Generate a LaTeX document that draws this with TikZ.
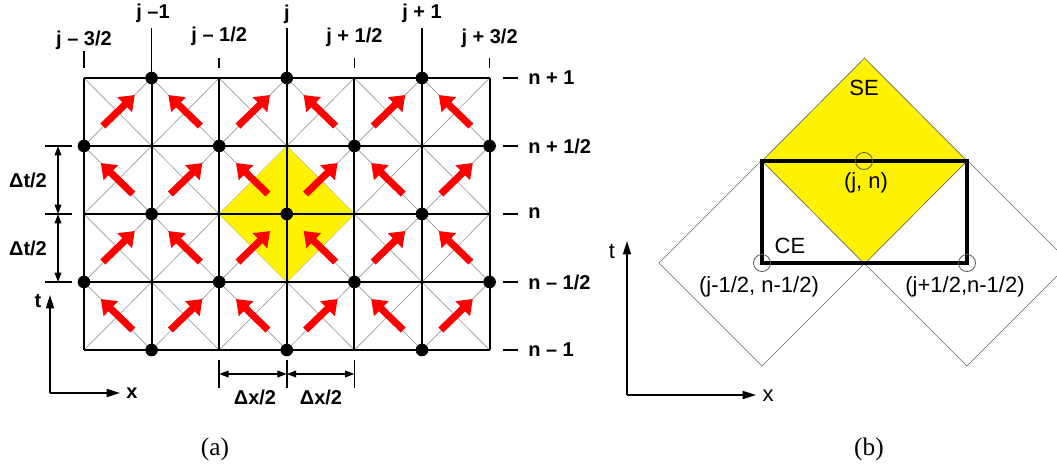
\documentclass[tikz,border=0pt]{standalone}
\usepackage{fontspec}
\setmainfont{Liberation Sans}
\newfontfamily\capfont{Liberation Serif}
\usetikzlibrary{arrows.meta}
\tikzset{
  lbl/.style={font=\fontsize{15}{18}\bfseries\selectfont, inner sep=0pt},
  rlbl/.style={font=\fontsize{15}{18}\bfseries\selectfont, inner sep=0pt, anchor=west},
  blbl/.style={font=\fontsize{16.5}{19}\selectfont, inner sep=0pt},
  caplbl/.style={font=\fontsize{19}{22}\capfont, inner sep=0pt},
  gridline/.style={line width=1.6pt, black},
  diag/.style={line width=0.5pt, black!40},
  redarrow/.style={line width=5.3pt, red, -{Triangle[width=15pt,length=10.5pt]}},
  tickline/.style={line width=1.1pt, black},
  dimarrow/.style={line width=1.1pt, black, {Triangle[width=5pt,length=7pt]}-{Triangle[width=5pt,length=7pt]}},
  axisarrow/.style={line width=1.3pt, black, -{Triangle[width=6pt,length=10pt]}},
  dot/.style={black},
  thinpoly/.style={line width=0.5pt, black!60},
  ring/.style={line width=0.6pt, black!65},
}
\begin{document}
\begin{tikzpicture}[x=0.75pt,y=-0.75pt]
\useasboundingbox (0,0) rectangle (1057,468);

% ---------------- (a) ----------------
\foreach \c in {0,...,5}{
  \foreach \r in {0,...,3}{
    \pgfmathsetmacro{\xa}{84+67.6*\c}
    \pgfmathsetmacro{\xb}{84+67.6*(\c+1)}
    \pgfmathsetmacro{\ya}{78+68*\r}
    \pgfmathsetmacro{\yb}{78+68*(\r+1)}
    \draw[diag] (\xa,\ya) -- (\xb,\yb);
    \draw[diag] (\xa,\yb) -- (\xb,\ya);
  }
}
\fill[yellow] (219.2,214) -- (286.8,146) -- (354.4,214) -- (286.8,282) -- cycle;
\foreach \c in {0,...,5}{
  \foreach \r in {0,...,3}{
    \pgfmathsetmacro{\cx}{84+67.6*(\c+0.5)}
    \pgfmathsetmacro{\cy}{78+68*(\r+0.5)}
    \pgfmathtruncatemacro{\parity}{mod(\c+\r,2)}
    \ifnum\parity=0
      \draw[redarrow] (\cx-15,\cy+14) -- (\cx+17,\cy-17);
    \else
      \draw[redarrow] (\cx+15,\cy+14) -- (\cx-17,\cy-17);
    \fi
  }
}
\foreach \c in {0,...,6}{
  \pgfmathsetmacro{\xa}{84+67.6*\c}
  \draw[gridline] (\xa,78) -- (\xa,350);
}
\foreach \r in {0,...,4}{
  \pgfmathsetmacro{\ya}{78+68*\r}
  \draw[gridline] (84,\ya) -- (489.6,\ya);
}
\foreach \r in {0,2,4}{
  \foreach \c in {1,3,5}{
    \fill[dot] ({84+67.6*\c},{78+68*\r}) circle[radius=6.3];
  }
}
\foreach \r in {1,3}{
  \foreach \c in {0,2,4,6}{
    \fill[dot] ({84+67.6*\c},{78+68*\r}) circle[radius=6.3];
  }
}
\draw[tickline] (84,51) -- (84,68);
\draw[tickline] (219.2,58) -- (219.2,68);
\draw[tickline] (354.4,58) -- (354.4,68);
\draw[tickline] (489.6,58) -- (489.6,68);
\draw[tickline] (151.6,28) -- (151.6,78);
\draw[tickline] (286.8,28) -- (286.8,78);
\draw[tickline] (422,28) -- (422,78);
\node[lbl] (jm32) at (84,40) {j – 3/2};
\node[lbl] (jm1) at (153,13) {j –1};
\node[lbl] (jm12) at (219.2,36) {j – 1/2};
\node[lbl] (j0) at (286.8,14) {j};
\node[lbl] (jp12) at (354.4,37) {j + 1/2};
\node[lbl] (jp1) at (422,13) {j + 1};
\node[lbl] (jp32) at (489.6,38) {j + 3/2};
\foreach \r in {0,...,4}{
  \draw[tickline] (503,{78+68*\r}) -- (518,{78+68*\r});
}
\node[rlbl] (np1) at (528,78) {n + 1};
\node[rlbl] (np12) at (528,146) {n + 1/2};
\node[rlbl] (n0) at (528,213) {n};
\node[rlbl] (nm12) at (528,282) {n – 1/2};
\node[rlbl] (nm1) at (528,350) {n – 1};
\foreach \yy in {146,214,282}{
  \draw[tickline] (45,\yy) -- (72,\yy);
}
\coordinate (dt1) at (58,146);
\coordinate (dt2) at (58,214);
\coordinate (dt3) at (58,282);
\draw[dimarrow] (dt1) -- (dt2);
\draw[dimarrow] (dt2) -- (dt3);
\node[lbl] (dtl1) at (28,180) {Δt/2};
\node[lbl] (dtl2) at (28,248) {Δt/2};
\foreach \xx in {219.2,286.8,354.4}{
  \draw[tickline] (\xx,360) -- (\xx,388);
}
\coordinate (dx1) at (219.2,374);
\coordinate (dx2) at (286.8,374);
\coordinate (dx3) at (354.4,374);
\draw[dimarrow] (dx1) -- (dx2);
\draw[dimarrow] (dx2) -- (dx3);
\node[lbl] (dxl1) at (255,397) {Δx/2};
\node[lbl] (dxl2) at (321,397) {Δx/2};
\coordinate (oa) at (50,393);
\coordinate (ta) at (50,295);
\coordinate (xa) at (120,393);
\draw[axisarrow] (oa) -- (ta);
\draw[axisarrow] (oa) -- (xa);
\node[lbl] (tlab) at (38,301) {t};
\node[lbl] (xlab) at (132,393) {x};
\node[caplbl] (capa) at (215,449) {(a)};

% ---------------- (b) ----------------
\begin{scope}
\clip (0,0) rectangle (1057,468);
\draw[thinpoly] (762,160) -- (659,263) -- (762,366) -- (865,263) -- cycle;
\draw[thinpoly] (967,160) -- (1070,263) -- (967,366) -- (864,263) -- cycle;
\end{scope}
\filldraw[fill=yellow, draw=black!60, line width=0.5pt] (864.5,58) -- (967,161) -- (864.5,264) -- (762,161) -- cycle;
\draw[line width=2.5pt, black] (762,161) rectangle (967,263);
\draw[ring] (864,161) circle[radius=8.5];
\draw[ring] (762,263) circle[radius=8.5];
\draw[ring] (967,263) circle[radius=8.5];
\node[blbl] (se) at (864,88) {SE};
\node[blbl] (jn) at (866,183) {(j, n)};
\node[blbl] (ce) at (790,246) {CE};
\node[blbl] (pl) at (759,287) {(j-1/2, n-1/2)};
\node[blbl] (pr) at (965,287) {(j+1/2,n-1/2)};
\coordinate (ob) at (627,395);
\coordinate (tb) at (627,241);
\coordinate (xb) at (756,395);
\draw[axisarrow] (ob) -- (tb);
\draw[axisarrow] (ob) -- (xb);
\node[blbl] (tlb) at (612,251) {t};
\node[blbl] (xlb) at (768,396) {x};
\node[caplbl] (capb) at (869,449) {(b)};
\end{tikzpicture}
\end{document}
